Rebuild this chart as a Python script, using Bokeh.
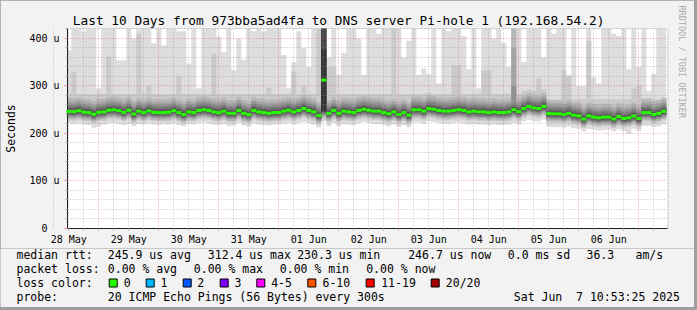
import numpy as np
from bokeh.plotting import figure
from bokeh.models import Range1d, FixedTicker, Title
from bokeh.embed import file_html
from bokeh.resources import INLINE
from bokeh.core.properties import value

# ---------------- data (hours since 2025-05-28 00:00, values in microseconds) ----------------
GRAPH_START_H = 11.48      # graph window starts (last 10 days)
BIN_START_H = 11.0         # first 2-hour consolidation bin
BIN_H = 2.0
Y_TOP_US = 421             # upper limit of the graph

median_us = [246.5, 246, 248, 245, 244, 240.5, 244.5, 245.5, 249, 250, 248, 244.5, 249, 241, 247, 244, 247.5, 244.5, 244, 244, 245, 248, 244, 240,
             245.5, 244, 248.5, 250, 248.5, 245.5, 244, 247, 242.5, 242.5, 248.5, 242.5, 240, 248.5, 245.5, 244, 242.5, 244, 244, 247, 249, 245.5, 248.5, 252.5,
             248.5, 245.5, 238, 312.4, 242.5, 248.5, 242.5, 247, 245.5, 244, 248.5, 251, 249, 247, 247, 244, 241.5, 245.5, 240, 244, 238.5, 250, 250, 247,
             252.5, 251, 248.5, 247, 247, 248.5, 250, 248.5, 245.5, 247, 245.5, 245.5, 244, 245.5, 244, 244, 245.5, 250, 246, 252.5, 257, 254, 252.5, 257,
             242, 241.5, 241.5, 240, 242.5, 238.5, 237, 230.3, 237, 234.5, 233, 234.5, 234.5, 230.5, 235.5, 231.5, 233, 237, 231.5, 244, 244, 240, 242.5, 246.7]

max_us = [375, 430, 430, 415, 430, 430, 295, 430, 430, 430, 354, 354, 430, 400, 430, 430, 430, 390, 430, 385, 430, 430, 415, 415,
          347, 430, 295, 430, 430, 430, 404, 371, 430, 333, 400, 355, 430, 415, 430, 415, 430, 430, 430, 365, 295, 350, 415, 380,
          340, 430, 430, 480, 360, 430, 323, 370, 430, 430, 400, 323, 430, 430, 410, 430, 430, 430, 430, 360, 395, 430, 323, 337,
          325, 430, 305, 430, 415, 430, 430, 405, 335, 430, 295, 430, 430, 400, 430, 390, 340, 450, 430, 350, 430, 430, 420, 360,
          430, 410, 430, 430, 323, 430, 300, 300, 430, 318, 305, 430, 430, 410, 405, 430, 335, 430, 340, 430, 290, 325, 430, 420]

min_us = [222, 220, 221, 219, 218, 212, 214, 219, 221, 222, 220, 218, 220, 216, 220, 219, 221, 219, 218, 220, 219, 221, 218, 215,
          220, 219, 222, 223, 221, 219, 218, 220, 216, 217, 222, 217, 214, 221, 219, 218, 217, 219, 219, 221, 222, 219, 222, 224,
          222, 219, 213, 225, 216, 222, 216, 220, 219, 218, 222, 224, 222, 220, 220, 218, 215, 219, 214, 218, 213, 223, 223, 220,
          225, 224, 222, 220, 220, 222, 223, 221, 219, 220, 219, 219, 218, 219, 218, 218, 219, 223, 219, 225, 229, 226, 225, 229,
          214, 213, 213, 212, 214, 211, 210, 204, 210, 208, 206, 208, 208, 204, 209, 205, 200, 210, 205, 216, 216, 213, 215, 219]

p19_us = [283, 330, 283, 283, 283, 283, 283, 283, 362, 283, 283, 283, 283, 283, 410, 283, 300, 283, 283, 283, 283, 283, 320, 283,
          283, 283, 283, 283, 283, 368, 283, 283, 283, 283, 283, 283, 283, 283, 283, 283, 297, 283, 283, 283, 283, 330, 283, 300,
          283, 283, 430, 470, 340, 340, 283, 283, 283, 283, 283, 283, 283, 283, 283, 283, 283, 430, 283, 283, 283, 283, 283, 283,
          285, 283, 283, 283, 283, 344, 344, 283, 283, 283, 283, 333, 333, 283, 283, 283, 283, 283, 283, 290, 292, 290, 316, 292,
          272, 272, 272, 333, 320, 272, 272, 272, 396, 272, 272, 272, 272, 272, 272, 272, 272, 295, 300, 275, 275, 272, 272, 276]

# typical spread of ping 2..18 around the median (read from the smoke)
profile_offsets_us = [-19, -16, -13, -11, -9, -7, -5, -3, -1, 1, 3, 6, 9, 13, 17, 22, 28]

# bins whose 20 sorted pings differ strongly from the usual shape
override_pings = {
    51: [225, 230, 234, 237, 239, 241, 243, 245, 246, 248, 376, 430, 440, 445, 450, 455, 460, 465, 470, 480],
    89: [222, 231, 234, 237, 239, 241, 243, 245, 247, 249, 251, 253, 256, 259, 263, 300, 380, 430, 445, 450],
}

day_labels = ["28 May", "29 May", "30 May", "31 May", "01 Jun", "02 Jun", "03 Jun", "04 Jun", "05 Jun", "06 Jun"]
y_tick_values = [0, 100, 200, 300, 400]
y_tick_labels = ["0\u00a0\u00a0", "100 u", "200 u", "300 u", "400 u"]

loss_labels = ["0", "1", "2", "3", "4-5", "6-10", "11-19", "20/20"]
loss_colors = ["#26ff00", "#00b8ff", "#0059ff", "#7e00ff", "#ff00ff", "#ff5500", "#ff0000", "#a00000"]

TITLE = "Last 10 Days from 973bba5ad4fa to DNS server Pi-hole 1 (192.168.54.2)"
Y_LABEL = "Seconds"
WATERMARK = "RRDTOOL / TOBI OETIKER"
row1_texts = ["median rtt:", "245.9 us avg", "312.4 us max", "230.3 us min", "246.7 us now", "0.0 ms sd", "36.3", "am/s"]
row2_texts = ["packet loss:", "0.00 % avg", "0.00 % max", "0.00 % min", "0.00 % now"]
row3_title = "loss color:"
row4_texts = ["probe:", "20 ICMP Echo Pings (56 Bytes) every 300s", "Sat Jun", "7 10:53:25 2025"]

# ---------------- layout positions (pixels) ----------------
row1_x = [16, 107.3, 207.3, 296.7, 407.7, 507.3, 586, 635]
row2_x = [16, 107.3, 193.3, 279.3, 365.7]
row4_x = [16, 107.3, 513.3, 575.6]
row_y = [6.3, 20.3, 34.3, 48.0]
box_cx = [112.7, 149.7, 186.7, 223.7, 260.3, 311.3, 369.7, 434.7]
box_label_x = [123.3, 160, 196.7, 234, 270.7, 322, 380.7, 445.3]

FONT = "DejaVu Sans Mono"
BG = "#f2f2f2"

# ---------------- main chart ----------------
p = figure(width=694, height=248, output_backend="svg", toolbar_location=None,
           x_range=Range1d(GRAPH_START_H, GRAPH_START_H + 240), y_range=Range1d(0, Y_TOP_US),
           min_border_left=67, min_border_right=27, min_border_top=28, min_border_bottom=20)
p.border_fill_color = BG
p.background_fill_color = "white"
p.outline_line_color = None

p.title.text = TITLE
p.title.align = "left"
p.title.offset = 5.3
p.title.standoff = 2
p.title.vertical_align = "bottom"
p.title.text_font = FONT
p.title.text_font_size = "12.8px"
p.title.text_font_style = "normal"
p.title.text_color = "black"

p.add_layout(Title(text=WATERMARK, align="left", vertical_align="top", standoff=14, offset=-23,
                   text_font=FONT, text_font_size="8.5px", text_font_style="normal", text_color="#ababab"),
             "right")

n = len(median_us)
starts = BIN_START_H + np.arange(n) * BIN_H
pings = np.zeros((n, 20))
for k in range(n):
    if k in override_pings:
        pings[k] = override_pings[k]
    else:
        pings[k] = [min_us[k]] + [median_us[k] + o for o in profile_offsets_us] + [p19_us[k], max_us[k]]
pings = np.minimum(pings, Y_TOP_US)

xs = np.column_stack([starts, starts + BIN_H]).ravel()
for i in range(10):
    shade = int(190 / 10 * (10 - (i + 1))) + 50
    col = "#%02x%02x%02x" % (shade, shade, shade)
    p.varea(x=xs, y1=np.repeat(pings[:, i], 2), y2=np.repeat(pings[:, 19 - i], 2), fill_color=col)

med = p.segment(x0=starts, x1=starts + BIN_H, y0=median_us, y1=median_us,
                line_color="#26ff00", line_width=3, line_cap="butt")

# grids
midnights = [24 * d for d in range(1, 11)]
six_hours = [h for h in range(6, 253, 6) if h % 24 != 0]
p.xgrid.ticker = FixedTicker(ticks=midnights, minor_ticks=six_hours)
p.ygrid.ticker = FixedTicker(ticks=[100, 200, 300, 400], minor_ticks=[v for v in range(20, 421, 20) if v % 100 != 0])
for g in (p.xgrid[0], p.ygrid[0]):
    g.grid_line_color = "#de4f4f"
    g.grid_line_alpha = 0.55
    g.grid_line_dash = "1 2"
    g.minor_grid_line_color = "#8f8f8f"
    g.minor_grid_line_alpha = 0.6
    g.minor_grid_line_dash = "1 2"
    g.level = "annotation"
med.level = "overlay"

# axes
noons = [12 + 24 * d for d in range(len(day_labels))]
p.xaxis.ticker = FixedTicker(ticks=noons, minor_ticks=list(range(12, 253, 6)))
p.xaxis.major_label_overrides = {t: lab for t, lab in zip(noons, day_labels)}
p.xaxis.major_tick_out = 0
p.xaxis.major_tick_in = 0
p.xaxis.minor_tick_out = 2
p.xaxis.minor_tick_in = 0
p.xaxis.minor_tick_line_color = "#b0b0b0"
p.xaxis.major_label_standoff = 3

p.yaxis.ticker = FixedTicker(ticks=y_tick_values, minor_ticks=[v for v in range(20, 421, 20) if v % 100 != 0])
p.yaxis.major_label_overrides = {t: lab for t, lab in zip(y_tick_values, y_tick_labels)}
p.yaxis.major_tick_out = 3
p.yaxis.major_tick_in = 0
p.yaxis.major_tick_line_color = "#e09090"
p.yaxis.minor_tick_out = 2
p.yaxis.minor_tick_in = 0
p.yaxis.minor_tick_line_color = "#b0b0b0"
p.yaxis.major_label_standoff = 5
p.yaxis.axis_label = Y_LABEL
p.yaxis.axis_label_standoff = 8
p.yaxis.axis_label_text_font = FONT
p.yaxis.axis_label_text_font_size = "11.5px"
p.yaxis.axis_label_text_font_style = "normal"
p.yaxis.axis_label_text_color = "black"

for ax in (p.xaxis[0], p.yaxis[0]):
    ax.axis_line_color = "#1f1f1f"
    ax.major_label_text_font = FONT
    ax.major_label_text_font_size = "10px"
    ax.major_label_text_color = "black"

# ---------------- legend area ----------------
q = figure(width=694, height=59, output_backend="svg", toolbar_location=None,
           x_range=Range1d(0, 694), y_range=Range1d(59, 0), x_axis_location=None, y_axis_location=None,
           min_border=0)
q.border_fill_color = BG
q.background_fill_color = BG
q.outline_line_color = None
q.grid.visible = False

txt = dict(text_font=value(FONT), text_font_size="11.5px", text_baseline="middle", text_align="left",
           text_color="black")
q.text(x=row1_x, y=[row_y[0]] * len(row1_texts), text=row1_texts, **txt)
q.text(x=row2_x, y=[row_y[1]] * len(row2_texts), text=row2_texts, **txt)
q.text(x=[16] + box_label_x, y=[row_y[2]] * (1 + len(loss_labels)), text=[row3_title] + loss_labels, **txt)
q.text(x=row4_x, y=[row_y[3]] * len(row4_texts), text=row4_texts, **txt)
q.rect(x=box_cx, y=[34.5] * len(box_cx), width=8, height=8, fill_color=loss_colors, line_color="black",
       line_width=1)

html = file_html([p, q], INLINE)
css = ("<style>html,body{margin:0;padding:0;background:#9e9e9e;}"
       "body{display:flex;flex-direction:column;align-items:flex-start;}</style>")
html = html.replace("<head>", "<head>" + css, 1)
open("out.html", "w").write(html)
